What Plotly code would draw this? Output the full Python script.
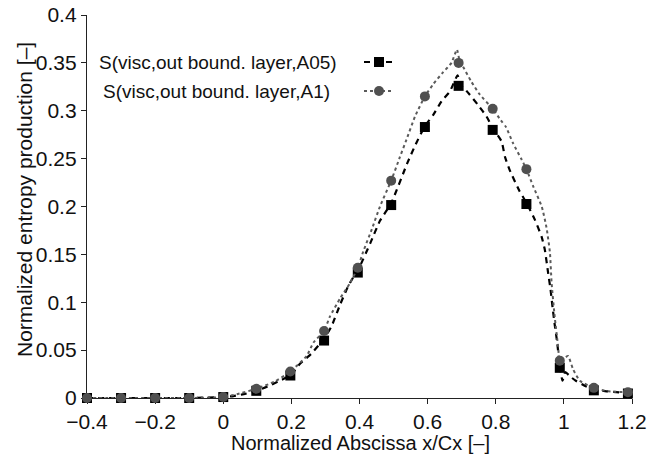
import plotly.graph_objects as go

# ---------------- data ----------------
marker_x = [-0.4, -0.3, -0.2, -0.1, 0.0, 0.097, 0.197, 0.296, 0.395, 0.493,
            0.592, 0.691, 0.791, 0.890, 0.988, 1.088, 1.188]
a05_marker_y = [0, 0, 0, 0, 0.001, 0.0075, 0.0235, 0.060, 0.131, 0.2015,
                0.283, 0.326, 0.280, 0.2026, 0.0315, 0.008, 0.0047]
a1_marker_y = [0, 0, 0, 0, 0.001, 0.0096, 0.0276, 0.070, 0.136, 0.227,
               0.315, 0.350, 0.302, 0.239, 0.039, 0.0106, 0.006]

a05_line_x = [-0.4, -0.3, -0.2, -0.1, 0.0, 0.03, 0.06, 0.097, 0.13, 0.165, 0.197,
              0.226, 0.258, 0.28, 0.296, 0.318, 0.343, 0.367, 0.385, 0.395, 0.432,
              0.46, 0.493, 0.54, 0.565, 0.592, 0.617, 0.641, 0.665, 0.688, 0.695,
              0.716, 0.748, 0.773, 0.791, 0.817, 0.827, 0.841, 0.87, 0.89, 0.915,
              0.935, 0.944, 0.954, 0.961, 0.967, 0.973, 0.98, 0.988, 0.996, 1.004,
              1.02, 1.035, 1.066, 1.088, 1.125, 1.188]
a05_line_y = [0, 0, 0, 0, 0.001, 0.002, 0.004, 0.0075, 0.012, 0.018, 0.0235,
              0.036, 0.046, 0.055, 0.062, 0.075, 0.0975, 0.117, 0.128, 0.133, 0.162,
              0.185, 0.2035, 0.245, 0.265, 0.284, 0.296, 0.31, 0.32, 0.337, 0.328,
              0.32, 0.306, 0.294, 0.282, 0.268, 0.252, 0.238, 0.216, 0.204, 0.186,
              0.168, 0.155, 0.13, 0.113, 0.094, 0.077, 0.059, 0.034, 0.018, 0.027,
              0.022, 0.018, 0.012, 0.009, 0.007, 0.005]

a1_line_x = [-0.4, -0.3, -0.2, -0.1, 0.0, 0.04, 0.097, 0.15, 0.197, 0.245, 0.265,
             0.296, 0.313, 0.343, 0.372, 0.395, 0.411, 0.436, 0.46, 0.493, 0.519,
             0.538, 0.563, 0.592, 0.617, 0.645, 0.67, 0.686, 0.694, 0.704, 0.729,
             0.753, 0.791, 0.815, 0.83, 0.851, 0.876, 0.89, 0.91, 0.935, 0.949,
             0.959, 0.964, 0.973, 0.983, 0.988, 1.0, 1.012, 1.027, 1.047, 1.088,
             1.13, 1.188]
a1_line_y = [0, 0, 0, 0, 0.001, 0.004, 0.0096, 0.017, 0.0276, 0.044, 0.058,
             0.070, 0.085, 0.104, 0.12, 0.136, 0.153, 0.176, 0.2, 0.227, 0.252,
             0.27, 0.294, 0.315, 0.328, 0.34, 0.35, 0.364, 0.352, 0.346, 0.33,
             0.317, 0.302, 0.29, 0.283, 0.266, 0.249, 0.239, 0.221, 0.2, 0.178,
             0.152, 0.12, 0.085, 0.054, 0.039, 0.041, 0.044, 0.03, 0.018, 0.0106,
             0.007, 0.006]

series_names = ["S(visc,out bound. layer,A05)", "S(visc,out bound. layer,A1)"]
x_tick_vals = [-0.4, -0.2, 0, 0.2, 0.4, 0.6, 0.8, 1, 1.2]
y_tick_vals = [0, 0.05, 0.1, 0.15, 0.2, 0.25, 0.3, 0.35, 0.4]
x_title = "Normalized Abscissa x/Cx [–]"
y_title = "Normalized entropy production [–]"

# ---------------- styles ----------------
FONT = "Liberation Sans, Arial, Helvetica, sans-serif"
A05_LINE = dict(color="#000000", width=2.2, dash="6px,5px", shape="spline", smoothing=0.5)
A05_MARK = dict(symbol="square", size=10, color="#000000")
A1_LINE = dict(color="#5a5a5a", width=2, dash="3px,3px", shape="spline", smoothing=0.5)
A1_MARK = dict(symbol="circle", size=10, color="#505050")

fig = go.Figure()
# legend samples (symbols only; the text is drawn as annotations to the left)
fig.add_trace(go.Scatter(x=[None], y=[None], mode="lines+markers", name=" ",
                         line=A05_LINE, marker=A05_MARK, showlegend=True))
fig.add_trace(go.Scatter(x=[None], y=[None], mode="lines+markers", name=" ",
                         line=A1_LINE, marker=A1_MARK, showlegend=True))
# data
fig.add_trace(go.Scatter(x=a05_line_x, y=a05_line_y, mode="lines", line=A05_LINE,
                         showlegend=False, hoverinfo="skip", cliponaxis=False))
fig.add_trace(go.Scatter(x=marker_x, y=a05_marker_y, mode="markers", marker=A05_MARK,
                         showlegend=False, name=series_names[0], cliponaxis=False))
fig.add_trace(go.Scatter(x=a1_line_x, y=a1_line_y, mode="lines", line=A1_LINE,
                         showlegend=False, hoverinfo="skip", cliponaxis=False))
fig.add_trace(go.Scatter(x=marker_x, y=a1_marker_y, mode="markers", marker=A1_MARK,
                         showlegend=False, name=series_names[1], cliponaxis=False))

L, R, T, B = 87, 31, 15, 60
W, H = 663, 458
pw, ph = W - L - R, H - T - B

def px_x(p):
    return (p - L) / pw

def px_y(p):
    return 1 - (p - T) / ph

axis_common = dict(showline=True, linecolor="#222222", linewidth=1.3, ticks="outside",
                   ticklen=5, tickwidth=1.2, tickcolor="#222222", showgrid=False,
                   zeroline=False, tickfont=dict(family=FONT, size=21, color="#111111"),
                   mirror=False, automargin=False, layer="below traces")

fig.update_xaxes(range=[-0.4, 1.2], tickvals=x_tick_vals, **axis_common)
fig.update_yaxes(range=[0, 0.4], tickvals=y_tick_vals, **axis_common)

annotations = [
    dict(text=series_names[0], x=px_x(339), y=px_y(62.7), xref="paper", yref="paper",
         xanchor="right", yanchor="middle", showarrow=False,
         font=dict(family=FONT, size=19, color="#111111")),
    dict(text=series_names[1], x=px_x(332.3), y=px_y(91.7), xref="paper", yref="paper",
         xanchor="right", yanchor="middle", showarrow=False,
         font=dict(family=FONT, size=19, color="#111111")),
    dict(text=y_title, x=px_x(24), y=px_y(200), xref="paper", yref="paper",
         xanchor="center", yanchor="middle", textangle=-90, showarrow=False,
         font=dict(family=FONT, size=21, color="#111111")),
    dict(text=x_title, x=px_x(360), y=px_y(443), xref="paper", yref="paper",
         xanchor="center", yanchor="middle", showarrow=False,
         font=dict(family=FONT, size=20, color="#111111")),
]

fig.update_layout(
    width=W, height=H,
    margin=dict(l=L, r=R, t=T, b=B, pad=0, autoexpand=False),
    paper_bgcolor="white", plot_bgcolor="white",
    font=dict(family=FONT, size=19, color="#111111"),
    showlegend=True,
    legend=dict(x=px_x(359), y=px_y(42.5), xanchor="left", yanchor="top",
                bgcolor="rgba(0,0,0,0)", borderwidth=0,
                font=dict(family=FONT, size=20), itemwidth=30),
    annotations=annotations,
)

fig.write_html("out.html")
